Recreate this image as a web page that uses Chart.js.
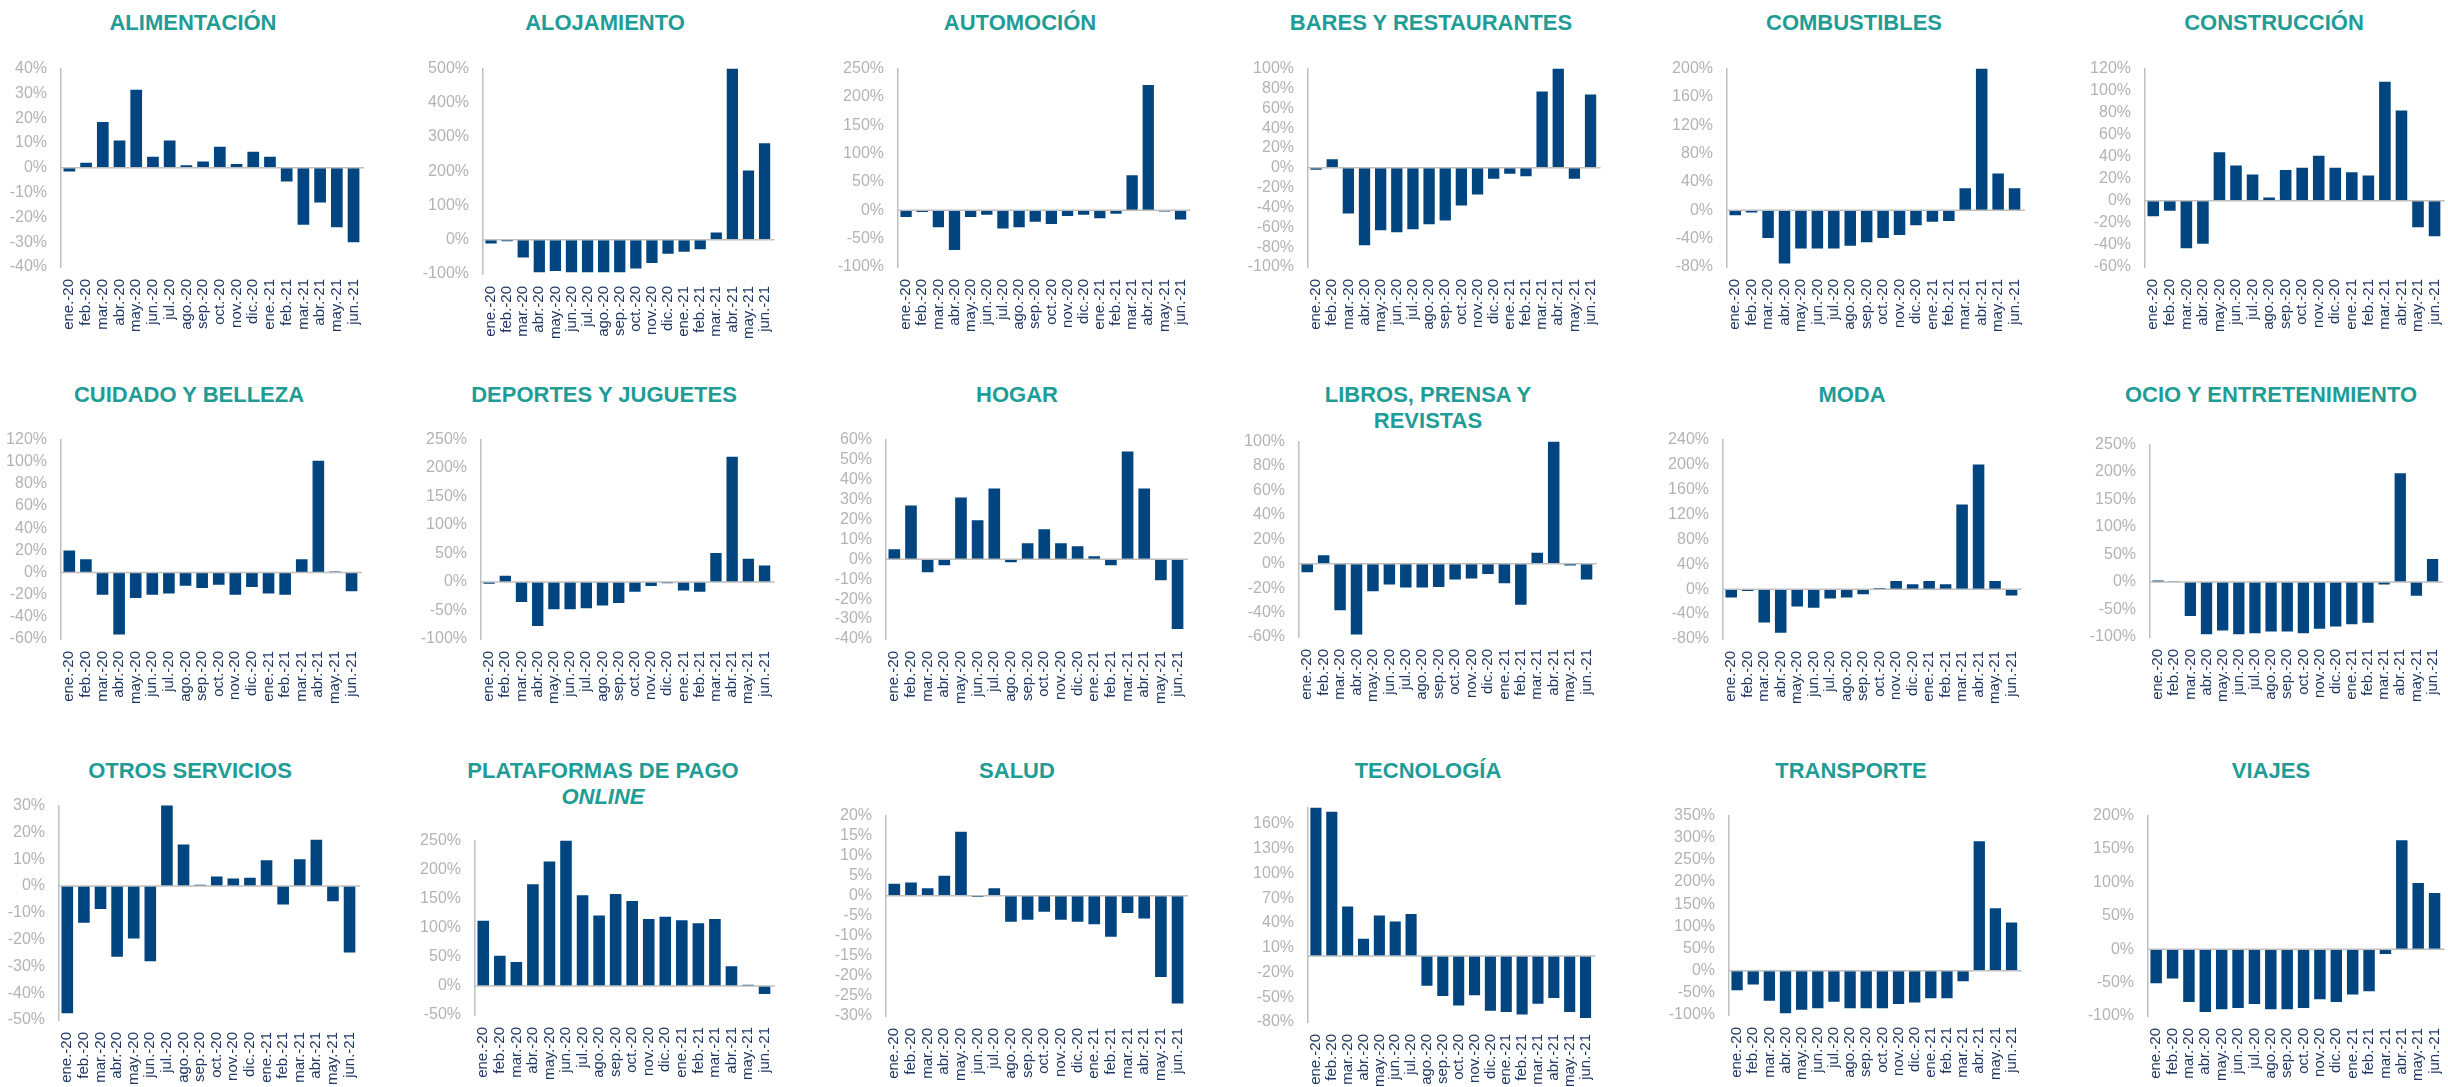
<!DOCTYPE html>
<html lang="es">
<head>
<meta charset="utf-8">
<title>Variación interanual del gasto por sector</title>
<script src="https://cdn.jsdelivr.net/npm/chart.js@4.4.1/dist/chart.umd.min.js"></script>
<style>
  html, body {
    margin: 0; padding: 0; background: #fff;
    width: 2448px; height: 1087px; overflow: hidden; position: relative;
    font-family: 'Liberation Sans', Arial, sans-serif;
  }
  canvas { position: absolute; }
  .title {
    position: absolute; transform: translateX(-50%);
    text-align: center; white-space: nowrap;
    color: #1f9c96; font-weight: bold; font-size: 22px; line-height: 26px;
  }
</style>
</head>
<body>
<script>
/* ================================================
   Datos
   ================================================ */

const months = [
  'ene.-20', 'feb.-20', 'mar.-20', 'abr.-20', 'may.-20', 'jun.-20',
  'jul.-20', 'ago.-20', 'sep.-20', 'oct.-20', 'nov.-20', 'dic.-20',
  'ene.-21', 'feb.-21', 'mar.-21', 'abr.-21', 'may.-21', 'jun.-21',
];

const titles = [
  'ALIMENTACIÓN', 'ALOJAMIENTO', 'AUTOMOCIÓN', 'BARES Y RESTAURANTES', 'COMBUSTIBLES', 'CONSTRUCCIÓN',
  'CUIDADO Y BELLEZA', 'DEPORTES Y JUGUETES', 'HOGAR', 'LIBROS, PRENSA Y\nREVISTAS', 'MODA', 'OCIO Y ENTRETENIMIENTO',
  'OTROS SERVICIOS', 'PLATAFORMAS DE PAGO\nONLINE', 'SALUD', 'TECNOLOGÍA', 'TRANSPORTE', 'VIAJES',
];
const italicLines = ['ONLINE'];

// Variación interanual (%)
const alimentacion = [-1.5, 2, 18.5, 11, 31.5, 4.5, 11, 1, 2.5, 8.5, 1.5, 6.5, 4.5, -5.5, -23, -14, -24, -30];
const alojamiento  = [-11, -4, -52, -95, -91, -95, -95, -95, -95, -84, -68, -41, -35, -28, 21, 500, 202, 282];
const automocion   = [-12, -3, -30, -70, -12, -8, -32, -30, -20, -24, -10, -8, -14, -6, 62, 221, -2, -16];
const bares        = [-2, 8.5, -46, -78, -63, -65, -62, -57, -53, -38, -27, -11, -6, -8.5, 77, 100, -11, 74];
const combustibles = [-7, -3, -39, -75, -54, -54, -54, -50, -45, -39, -35, -21, -16, -15, 31, 200, 52, 31];
const construccion = [-14, -9, -43, -39, 44, 32, 24, 3, 28, 30, 41, 30, 26, 23, 108, 82, -24, -32];
const cuidado      = [20, 12, -20, -56, -23, -20, -19, -12, -14, -11, -20, -13, -19, -20, 12, 101, 1, -17];
const deportes     = [-3, 11, -35, -77, -48, -48, -46, -41, -37, -17, -7, -2, -15, -17, 51, 220, 41, 29];
const hogar        = [5, 27, -6.5, -3, 31, 19.5, 35.5, -1.5, 8, 15, 8, 6.5, 1.5, -3, 54, 35.5, -10.5, -35];
const libros       = [-7, 7, -38, -58, -22.5, -17, -19.5, -19.5, -19, -13, -12, -8.5, -16, -33.5, 9, 100, -1.5, -13];
const moda         = [-13.5, -3, -53.5, -70, -28, -30, -15, -13.5, -8, 2, 13, 8, 13, 8, 136, 200, 13, -10];
const ocio         = [3, 1, -62, -95, -88, -95, -93, -90, -90, -93, -85, -81, -77, -74, -4.5, 198, -25, 42];
const otros        = [-47.5, -13.7, -8.6, -26.4, -19.6, -28.1, 30.4, 15.5, 0.5, 3.5, 2.8, 3.1, 9.6, -6.9, 10, 17.3, -5.7, -24.8];
const plataformas  = [112, 52, 41, 175, 214, 250, 156, 121, 158, 146, 115, 119, 113, 108, 115, 34, 2, -14];
const salud        = [3, 3.3, 1.9, 5, 16, -0.3, 1.9, -6.5, -6, -4, -6, -6.5, -7.1, -10.2, -4.3, -5.7, -20.3, -26.9];
const tecnologia   = [180, 175, 60, 21, 49, 42, 51, -36, -48.5, -60, -47.5, -66.5, -68, -71, -58, -51, -68, -75];
const transporte   = [-44, -31, -68, -96, -88, -85, -70, -85, -85, -85, -75, -72, -62, -62, -24, 292, 141, 109];
const viajes       = [-51, -44, -79, -94, -90, -88, -82, -90, -90, -88, -75, -79, -68, -63, -7, 163, 99, 84];

const series = [
  alimentacion, alojamiento, automocion, bares, combustibles, construccion,
  cuidado, deportes, hogar, libros, moda, ocio,
  otros, plataformas, salud, tecnologia, transporte, viajes,
];

// Escalas del eje Y (ticks: axisMin, axisMin + axisStep, ... <= axisMax)
const axisMin  = [-40, -100, -100, -100, -80, -60,  -60, -100, -40, -60, -80, -100,  -50, -50, -30, -80, -100, -100];
const axisMax  = [ 40,  500,  250,  100, 200, 120,  120,  250,  60, 100, 240,  250,   30, 250,  20, 180,  350,  200];
const axisStep = [ 10,  100,   50,   20,  40,  20,   20,   50,  10,  20,  40,   50,   10,  50,   5,  30,   50,   50];

/* ================================================
   Maquetación (px): área de trazado [ejeX, arriba, derecha, abajo]
   ================================================ */
const plotBoxes = [
  [61, 57, 368, 267], [483, 57, 779, 274], [898, 57, 1195, 267],
  [1308, 57, 1605, 267], [1727, 57, 2029, 267], [2145, 57, 2449, 267],
  [61, 428, 366, 639], [481, 428, 779, 639], [886, 428, 1192, 639],
  [1299, 430, 1601, 637], [1723, 428, 2026, 639], [2150, 433, 2447, 637],
  [59, 794, 364, 1020], [475, 829, 779, 1015], [886, 804, 1192, 1016],
  [1308, 796, 1600, 1022], [1729, 804, 2026, 1015], [2148, 804, 2449, 1016],
];
const titleX = [193, 605, 1020, 1431, 1854, 2274, 189, 604, 1017, 1428, 1852, 2271, 190, 603, 1017, 1428, 1851, 2271];
const titleY = [23, 395, 771]; // centro de la primera línea, por fila

const Y_AXIS_W  = 70;
const PAD_TOP   = 12;
const PAD_RIGHT = 16;
const X_AXIS_H  = 80;

const BAR_COLOR  = '#00457f';
const AXIS_COLOR = '#bfbfbf';
const FONT = "'Liberation Sans', Arial, sans-serif";

// Línea del cero (Excel la dibuja aunque 0 no sea un tick)
const zeroLine = {
  id: 'zeroLine',
  afterDatasetsDraw(chart) {
    const { ctx, chartArea, scales: { y } } = chart;
    const py = y.getPixelForValue(0);
    ctx.save();
    ctx.strokeStyle = AXIS_COLOR;
    ctx.lineWidth = 1.5;
    ctx.beginPath();
    ctx.moveTo(chartArea.left, py);
    ctx.lineTo(chartArea.right + 2, py);
    ctx.stroke();
    ctx.restore();
  },
};

function buildTicks(i) {
  const out = [];
  for (let v = axisMin[i]; v <= axisMax[i] + 1e-9; v += axisStep[i]) out.push({ value: v });
  return out;
}

function addTitle(i) {
  const div = document.createElement('div');
  div.className = 'title';
  div.style.left = titleX[i] + 'px';
  div.style.top = (titleY[Math.floor(i / 6)] - 13) + 'px';
  titles[i].split('\n').forEach((line, k) => {
    if (k > 0) div.appendChild(document.createElement('br'));
    const span = document.createElement(italicLines.includes(line) ? 'i' : 'span');
    span.textContent = line;
    div.appendChild(span);
  });
  document.body.appendChild(div);
}

function createSectorChart(i) {
  const [ax, top, right, bottom] = plotBoxes[i];
  const canvas = document.createElement('canvas');
  const left = ax - Y_AXIS_W;
  const w = right - left + PAD_RIGHT;
  const h = bottom - top + PAD_TOP + X_AXIS_H;
  canvas.width = w;
  canvas.height = h;
  canvas.style.left = left + 'px';
  canvas.style.top = (top - PAD_TOP) + 'px';
  canvas.style.width = w + 'px';
  canvas.style.height = h + 'px';
  document.body.appendChild(canvas);

  return new Chart(canvas, {
    type: 'bar',
    data: {
      labels: months,
      datasets: [{
        data: series[i],
        backgroundColor: BAR_COLOR,
        borderWidth: 0,
        categoryPercentage: 1,
        barPercentage: 0.7,
      }],
    },
    options: {
      responsive: false,
      animation: false,
      devicePixelRatio: 1,
      layout: { padding: { top: PAD_TOP, right: PAD_RIGHT, left: 0, bottom: 0 } },
      plugins: { legend: { display: false }, tooltip: { enabled: false } },
      scales: {
        x: {
          grid: { display: false, drawTicks: false },
          border: { display: false },
          ticks: {
            color: '#203864',
            font: { family: FONT, size: 15 },
            minRotation: 90, maxRotation: 90,
            autoSkip: false,
            padding: 12,
          },
          afterFit: s => { s.height = X_AXIS_H; },
        },
        y: {
          min: axisMin[i],
          max: axisMax[i],
          grid: { display: false, drawTicks: false },
          border: { display: true, color: AXIS_COLOR, width: 1.5 },
          ticks: {
            color: '#b3b3b3',
            font: { family: FONT, size: 16 },
            padding: 14,
            autoSkip: false,
            callback: v => `${v}%`,
          },
          afterBuildTicks: s => { s.ticks = buildTicks(i); },
          afterFit: s => { s.width = Y_AXIS_W; },
        },
      },
    },
    plugins: [zeroLine],
  });
}

series.forEach((_, i) => {
  addTitle(i);
  createSectorChart(i);
});
</script>
</body>
</html>
